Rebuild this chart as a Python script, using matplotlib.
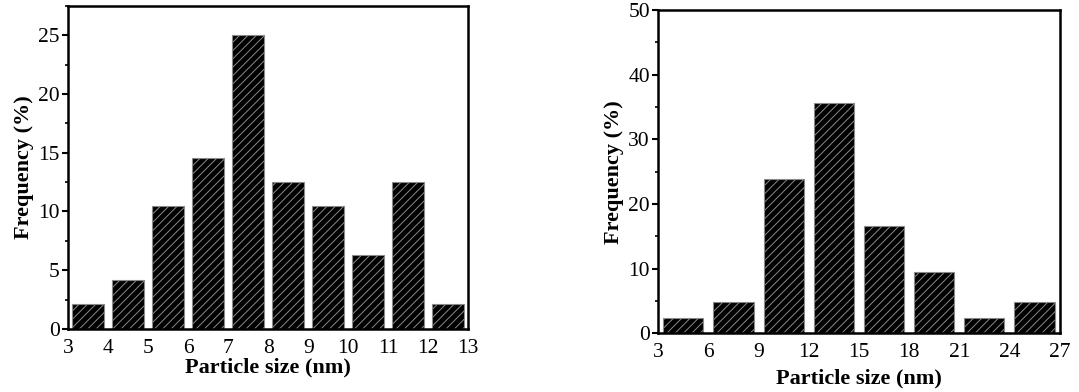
import numpy as np
import matplotlib
matplotlib.use("Agg")
import matplotlib.pyplot as plt
from matplotlib.ticker import MultipleLocator

# left panel: 3-13 nm, 1 nm bins
left_centers = [3.5, 4.5, 5.5, 6.5, 7.5, 8.5, 9.5, 10.5, 11.5, 12.5]
left_freq = [2.08, 4.17, 10.42, 14.58, 25.0, 12.5, 10.42, 6.25, 12.5, 2.08]
left_xticks = [3, 4, 5, 6, 7, 8, 9, 10, 11, 12, 13]

# right panel: 3-27 nm, 3 nm bins
right_centers = [4.5, 7.5, 10.5, 13.5, 16.5, 19.5, 22.5, 25.5]
right_freq = [2.38, 4.76, 23.81, 35.71, 16.67, 9.52, 2.38, 4.76]
right_xticks = [3, 6, 9, 12, 15, 18, 21, 24, 27]

plt.rcParams["font.family"] = ["Liberation Serif", "DejaVu Serif"]
plt.rcParams["hatch.linewidth"] = 0.7
plt.rcParams["hatch.color"] = "#8a8a8a"

fig = plt.figure(figsize=(10.79, 3.92), dpi=100)
ax1 = fig.add_axes([0.063, 0.161, 0.371, 0.824])
ax2 = fig.add_axes([0.610, 0.150, 0.372, 0.824])


def draw_hist(ax, centers, freq, width, xlim, xticks, ylim, ymajor, xpad):
    ax.bar(centers, freq, width=width, color="black", edgecolor="#8a8a8a",
           linewidth=0.8, hatch="////")
    ax.set_xlim(*xlim)
    ax.set_ylim(*ylim)
    ax.set_xticks(xticks)
    ax.yaxis.set_major_locator(MultipleLocator(ymajor))
    ax.yaxis.set_minor_locator(MultipleLocator(ymajor / 2))
    ax.tick_params(axis="x", length=0, pad=7, labelsize=15.5)
    ax.tick_params(axis="y", which="major", direction="out", length=4,
                   width=1.5, labelsize=15.5, pad=2)
    ax.tick_params(axis="y", which="minor", direction="out", length=2,
                   width=1.2)
    for s in ax.spines.values():
        s.set_linewidth(1.8)
    ax.set_xlabel("Particle size (nm)", fontsize=16, fontweight="bold",
                  labelpad=xpad)
    ax.set_ylabel("Frequency (%)", fontsize=16, fontweight="bold",
                  labelpad=3)


draw_hist(ax1, left_centers, left_freq, 0.8, (3, 13), left_xticks,
          (0, 27.5), 5, 0)
draw_hist(ax2, right_centers, right_freq, 2.4, (3, 27), right_xticks,
          (0, 50), 10, 5)

fig.savefig("out.png", dpi=100)
